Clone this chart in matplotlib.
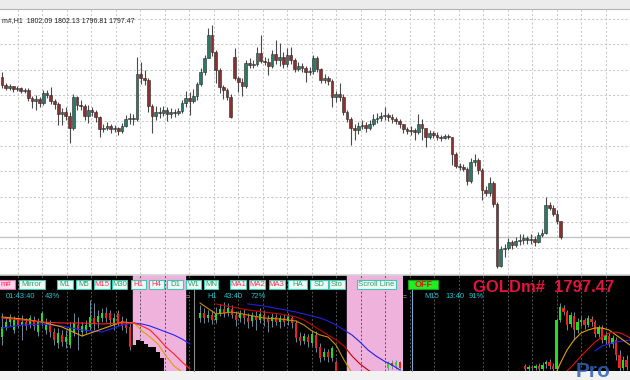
import numpy as np
import matplotlib.pyplot as plt
from matplotlib.patches import Rectangle
from matplotlib.lines import Line2D

W, H = 630, 380
plt.rcParams['font.family'] = ['Liberation Sans', 'DejaVu Sans']

# ---------------- main chart: GOLDm#, H1 ----------------
first_open = 1845.4
gap_opens = {62: 1851.4, 149: 1802.09}
main_close = [
    1843.0, 1842.1, 1842.7, 1841.8, 1842.1, 1841.2, 1841.5, 1839.1, 1838.2, 1838.8,
    1837.6, 1840.6, 1840.0, 1838.2, 1837.3, 1834.3, 1834.9, 1833.7, 1830.1, 1839.4,
    1837.0, 1836.7, 1833.7, 1835.5, 1834.9, 1833.4, 1829.8, 1830.1, 1830.7, 1829.8,
    1830.1, 1829.2, 1830.7, 1832.8, 1833.1, 1832.8, 1846.3, 1845.1, 1844.5, 1836.7,
    1833.7, 1834.9, 1834.6, 1835.5, 1834.3, 1834.9, 1834.6, 1835.2, 1837.6, 1839.1,
    1838.2, 1839.7, 1843.3, 1846.9, 1851.1, 1858.0, 1852.9, 1847.5, 1842.4, 1841.5,
    1839.4, 1833.4, 1845.1, 1843.9, 1842.7, 1849.6, 1849.0, 1849.3, 1852.6, 1850.2,
    1849.9, 1848.7, 1852.3, 1850.5, 1851.4, 1849.3, 1852.0, 1850.5, 1847.8, 1848.7,
    1848.1, 1846.9, 1847.2, 1851.1, 1847.8, 1844.5, 1845.1, 1844.2, 1839.4, 1840.3,
    1839.4, 1834.9, 1832.8, 1830.1, 1829.5, 1830.7, 1831.0, 1830.1, 1831.3, 1832.8,
    1833.1, 1833.7, 1834.0, 1833.4, 1832.8, 1832.2, 1831.3, 1829.8, 1829.2, 1829.5,
    1828.9, 1831.3, 1830.1, 1827.4, 1828.6, 1828.0, 1827.4, 1827.1, 1827.7, 1827.4,
    1822.3, 1818.7, 1818.4, 1817.8, 1814.2, 1819.9, 1820.5, 1817.5, 1811.5, 1810.6,
    1813.6, 1807.3, 1788.7, 1793.8, 1794.1, 1795.9, 1795.0, 1796.2, 1796.5, 1797.1,
    1796.5, 1796.8, 1795.9, 1798.0, 1798.6, 1807.0, 1806.1, 1804.3, 1802.2, 1797.47]
main_high = [
    1846.9, 1843.6, 1843.3, 1842.7, 1842.7, 1842.4, 1842.1, 1842.1, 1839.7, 1840.0,
    1839.4, 1841.5, 1841.5, 1842.4, 1838.8, 1837.9, 1836.1, 1836.4, 1834.9, 1840.3,
    1839.7, 1838.5, 1837.3, 1837.0, 1836.4, 1835.5, 1833.7, 1831.3, 1831.9, 1831.3,
    1831.0, 1830.4, 1831.6, 1834.0, 1834.6, 1834.3, 1851.4, 1849.9, 1847.5, 1845.1,
    1837.3, 1836.7, 1836.4, 1836.7, 1836.4, 1836.1, 1835.8, 1836.1, 1838.5, 1841.2,
    1840.9, 1841.8, 1843.9, 1848.1, 1852.0, 1860.1, 1861.0, 1853.5, 1848.1, 1843.0,
    1842.1, 1840.3, 1854.1, 1845.7, 1845.1, 1850.5, 1851.1, 1850.5, 1854.4, 1858.0,
    1851.4, 1851.1, 1853.5, 1856.5, 1855.6, 1852.9, 1854.1, 1854.4, 1851.1, 1849.9,
    1849.6, 1848.7, 1848.4, 1852.0, 1851.7, 1848.1, 1846.3, 1845.7, 1844.8, 1841.2,
    1843.6, 1840.3, 1835.5, 1833.4, 1831.3, 1831.9, 1832.5, 1831.9, 1832.5, 1834.3,
    1834.6, 1834.9, 1836.4, 1834.6, 1834.3, 1833.4, 1832.8, 1831.3, 1830.4, 1830.7,
    1830.1, 1834.3, 1832.8, 1830.1, 1829.5, 1829.2, 1828.9, 1828.0, 1828.3, 1828.3,
    1827.4, 1822.9, 1819.6, 1819.3, 1818.4, 1821.1, 1822.3, 1821.1, 1818.1, 1812.7,
    1815.4, 1814.2, 1807.9, 1794.7, 1795.3, 1797.1, 1796.5, 1797.4, 1798.3, 1798.3,
    1797.7, 1798.3, 1797.7, 1798.9, 1799.8, 1809.4, 1807.9, 1807.0, 1805.5, 1802.13]
main_low = [
    1842.1, 1841.5, 1841.5, 1840.9, 1841.2, 1840.6, 1840.6, 1838.2, 1836.1, 1835.5,
    1836.4, 1837.0, 1839.1, 1837.3, 1835.8, 1831.0, 1831.0, 1832.5, 1825.6, 1829.5,
    1835.5, 1835.5, 1832.5, 1831.6, 1833.7, 1831.9, 1827.4, 1828.9, 1829.5, 1828.6,
    1828.9, 1828.0, 1828.6, 1830.4, 1831.3, 1831.0, 1832.2, 1843.3, 1843.0, 1834.9,
    1828.6, 1832.5, 1833.1, 1833.7, 1832.2, 1833.1, 1833.4, 1834.0, 1834.6, 1836.4,
    1834.0, 1837.6, 1838.5, 1842.7, 1846.0, 1851.1, 1851.7, 1843.6, 1840.6, 1838.8,
    1838.5, 1833.1, 1844.5, 1840.9, 1839.7, 1842.1, 1848.1, 1848.1, 1848.7, 1849.6,
    1849.0, 1846.0, 1848.1, 1849.3, 1848.7, 1848.1, 1848.4, 1849.3, 1846.9, 1847.2,
    1846.9, 1843.9, 1846.0, 1846.3, 1846.9, 1843.6, 1843.6, 1843.0, 1836.4, 1837.9,
    1838.2, 1834.0, 1831.9, 1825.0, 1826.5, 1828.3, 1829.8, 1828.9, 1829.5, 1830.7,
    1831.6, 1832.2, 1832.5, 1832.2, 1831.6, 1831.3, 1830.1, 1828.6, 1828.3, 1828.0,
    1826.5, 1828.3, 1826.5, 1824.4, 1826.8, 1827.1, 1826.5, 1826.2, 1826.8, 1826.8,
    1819.0, 1818.1, 1817.5, 1817.2, 1813.0, 1813.6, 1818.7, 1816.3, 1808.5, 1809.7,
    1809.7, 1806.4, 1788.1, 1788.4, 1791.4, 1793.5, 1793.8, 1794.4, 1795.0, 1795.3,
    1795.3, 1795.3, 1794.7, 1795.6, 1797.4, 1798.3, 1805.5, 1803.7, 1801.3, 1796.81]
bid_price = 1797.47
title_text = "m#,H1  1802.09 1802.13 1796.81 1797.47"

# ---------------- mini panel 1 ----------------
p1_open = [1803.4, 1804.4, 1804.9, 1804.1, 1805.1, 1804.6, 1804.9, 1804.6, 1805.1, 1803.9,
           1804.8, 1804.1, 1804.6, 1803.9, 1802.8, 1803.6, 1802.9, 1802.6, 1803.8, 1804.6,
           1803.9, 1804.1, 1804.4, 1805.3, 1804.9, 1805.3, 1805.8, 1805.8, 1804.6, 1805.8,
           1805.0, 1804.7, 1804.4]
p1_close = [1804.4, 1804.9, 1805.3, 1805.1, 1804.6, 1804.9, 1804.5, 1805.3, 1804.5, 1804.9,
            1805.8, 1804.6, 1803.9, 1803.1, 1803.8, 1802.9, 1803.4, 1804.3, 1804.8, 1804.1,
            1804.5, 1804.6, 1805.4, 1804.8, 1805.5, 1805.8, 1805.3, 1805.1, 1805.3, 1804.8,
            1804.5, 1804.3, 1802.4]
p1_high = [1805.8, 1805.3, 1805.7, 1805.5, 1805.4, 1805.6, 1805.3, 1805.6, 1805.5, 1805.3,
           1806.0, 1805.3, 1805.1, 1804.3, 1804.3, 1804.1, 1804.1, 1804.9, 1805.8, 1805.4,
           1804.9, 1805.1, 1807.1, 1806.8, 1806.1, 1806.3, 1806.4, 1806.1, 1805.8, 1806.1,
           1805.5, 1805.3, 1804.8]
p1_low = [1802.6, 1804.1, 1804.5, 1803.8, 1804.3, 1803.1, 1804.1, 1804.3, 1804.1, 1803.5,
          1804.5, 1803.7, 1803.4, 1802.6, 1802.3, 1802.5, 1802.3, 1802.3, 1803.5, 1802.1,
          1803.5, 1803.8, 1804.1, 1804.1, 1804.3, 1804.9, 1804.9, 1804.6, 1804.1, 1804.5,
          1804.1, 1803.8, 1802.1]
p1_shadow_x = [33, 34, 35, 36, 37, 38, 39, 40]
p1_shadow_top = [1802.6, 1803.1, 1803.0, 1802.7, 1802.4, 1802.4, 1801.9, 1801.3]
p1_ma_x = [0, 5, 10, 15, 20, 25, 30, 33, 35, 37, 39, 41, 43, 45, 47]
p1_ma_red = [1805.3, 1805.1, 1804.9, 1804.8, 1804.8, 1804.7, 1804.8, 1804.8, 1804.5, 1804.1,
             1803.3, 1802.4, 1801.7, 1800.9, 1800.2]
p1_ma_gold = [1805.4, 1805.2, 1804.9, 1804.4, 1803.5, 1804.2, 1804.9, 1804.8, 1804.0, 1803.4,
              1802.7, 1801.5, 1800.5, 1799.9, 1799.2]
p1_ma_blue = [1804.3, 1804.6, 1804.7, 1804.5, 1804.1, 1803.9, 1804.6, 1804.8, 1804.7, 1804.5,
              1804.2, 1803.9, 1803.6, 1803.2, 1802.7]

# ---------------- mini panel 2 (H1) ----------------
p2_x = list(range(35)) + [47, 48, 49, 50]
p2_open = [1805.3, 1805.8, 1805.3, 1805.6, 1805.1, 1805.7, 1806.2, 1805.8, 1806.2, 1805.6,
           1805.3, 1805.7, 1805.3, 1805.0, 1805.5, 1805.1, 1805.6, 1805.2, 1805.0, 1805.4,
           1804.9, 1805.3, 1805.0, 1805.3, 1804.8, 1803.4, 1803.0, 1803.4, 1802.8, 1803.6,
           1802.4, 1801.4, 1801.9, 1801.3, 1800.9, 1800.3, 1800.8, 1800.5, 1800.9]
p2_close = [1805.8, 1805.3, 1805.6, 1805.1, 1805.7, 1806.2, 1805.8, 1806.3, 1805.6, 1805.1,
            1805.7, 1805.3, 1804.9, 1805.5, 1805.1, 1805.7, 1805.2, 1804.9, 1805.4, 1804.9,
            1805.3, 1804.9, 1805.4, 1804.8, 1803.3, 1803.0, 1803.5, 1802.9, 1803.7, 1802.3,
            1801.3, 1801.9, 1801.4, 1802.3, 1800.0, 1800.8, 1800.5, 1800.9, 1800.3]
p2_high = [1806.6, 1806.3, 1806.1, 1806.1, 1806.4, 1806.7, 1806.9, 1806.8, 1806.6, 1806.0,
           1806.1, 1806.2, 1805.8, 1805.9, 1806.0, 1806.3, 1806.1, 1805.6, 1805.8, 1805.7,
           1805.6, 1805.7, 1805.8, 1805.6, 1805.1, 1803.9, 1803.8, 1803.7, 1804.1, 1804.0,
           1802.8, 1802.3, 1802.2, 1802.5, 1801.1, 1801.0, 1801.1, 1801.1, 1801.0]
p2_low = [1804.9, 1804.8, 1804.9, 1804.7, 1804.8, 1805.5, 1805.4, 1805.5, 1805.3, 1804.5,
          1804.9, 1804.7, 1804.3, 1804.5, 1804.1, 1804.8, 1804.5, 1803.9, 1804.4, 1804.6,
          1804.3, 1804.5, 1804.6, 1804.3, 1802.9, 1802.6, 1802.7, 1802.4, 1802.5, 1801.9,
          1800.9, 1801.1, 1800.9, 1801.0, 1799.8, 1800.1, 1800.2, 1800.2, 1800.1]
p2_ma_x = [0, 4, 8, 12, 16, 20, 24, 26, 28, 30, 32, 34, 36, 38, 40, 42, 44, 46, 48, 50]
nan = np.nan
p2_ma_red = [nan, 1806.7, 1806.4, 1806.1, 1805.9, 1805.7, 1805.4, 1805.1, 1804.6, 1804.1,
             1803.6, 1803.1, 1802.5, 1801.5, 1800.7, 1800.1, 1799.6, nan, nan, nan]
p2_ma_gold = [1806.8, 1805.7, 1805.9, 1805.6, 1805.3, 1805.2, 1805.0, 1804.6, 1804.0, 1803.6,
              1803.4, 1802.6, 1801.1, 1799.8, nan, nan, nan, nan, nan, nan]
p2_ma_blue = [nan, nan, nan, 1806.7, 1806.5, 1806.2, 1805.9, 1805.7, 1805.5, 1805.3,
              1805.0, 1804.6, 1804.1, 1803.6, 1802.9, 1802.1, 1801.5, 1801.0, 1800.6, 1800.1]

# ---------------- mini panel 3 (M15) ----------------
p3_open = [1800.5, 1800.2, 1800.4, 1800.3, 1800.5, 1800.2, 1800.7, 1800.9, 1800.5, 1800.2,
           1805.1, 1806.3, 1805.9, 1804.7, 1805.5, 1804.1, 1804.9, 1805.1, 1804.6, 1805.2,
           1804.9, 1803.7, 1804.3, 1803.1, 1803.5, 1802.7, 1803.1, 1801.6, 1800.3, 1801.1]
p3_close = [1800.2, 1800.4, 1800.3, 1800.5, 1800.2, 1800.6, 1800.9, 1800.5, 1800.2, 1805.1,
            1806.4, 1805.9, 1804.6, 1805.6, 1804.1, 1804.9, 1805.1, 1804.6, 1805.3, 1804.9,
            1803.7, 1804.4, 1803.1, 1803.6, 1802.7, 1803.3, 1801.6, 1800.3, 1801.1, 1800.4]
p3_high = [1800.7, 1800.6, 1800.6, 1800.7, 1800.8, 1800.9, 1801.1, 1801.2, 1800.8, 1805.3,
           1806.8, 1806.6, 1806.1, 1805.9, 1805.9, 1805.3, 1805.5, 1805.3, 1805.6, 1805.5,
           1805.1, 1804.6, 1804.6, 1803.9, 1803.8, 1803.6, 1803.4, 1802.1, 1801.5, 1801.6]
p3_low = [1800.0, 1800.0, 1800.1, 1800.1, 1800.0, 1800.0, 1800.3, 1800.2, 1800.0, 1800.0,
          1804.9, 1805.6, 1804.1, 1804.4, 1803.1, 1803.8, 1804.5, 1804.2, 1804.4, 1804.5,
          1803.4, 1803.4, 1802.8, 1802.7, 1802.4, 1802.3, 1801.1, 1800.0, 1800.1, 1800.1]
p3_ma_x = [9, 10, 12, 14, 16, 18, 20, 22, 24, 26, 28, 30]
p3_ma_gold = [1799.9, 1800.7, 1802.1, 1803.1, 1803.8, 1804.1, 1804.3, 1804.3, 1804.1, 1803.6,
              1803.1, 1802.6]
p3_ma_red = [nan, nan, 1800.0, 1800.7, 1801.5, 1802.2, 1802.9, 1803.4, 1803.8, 1803.9,
             1803.7, 1803.3]
p3_ma_blue = [nan, nan, nan, nan, nan, nan, 1802.0, 1802.5, 1802.7, 1802.9, 1803.0, 1803.1]

# ---------------- toolbar / labels ----------------
button_labels = ["m#", "Mirror", "M1", "M5", "M15", "M30", "H1", "H4", "D1", "W1", "MN",
                 "MA1", "MA2", "MA3", "HA", "SD", "Sto", "Scroll Line", "OFF"]
button_red = {"m#", "M15", "H1", "H4", "MA1", "MA2", "MA3"}
button_x = [(-3, 15), (19, 45), (57, 72.7), (76, 90.7), (94, 110), (111.7, 127.3),
            (130.7, 145.7), (149.3, 164), (167.3, 182.7), (186, 200.7), (204, 218.3),
            (230, 246), (249.3, 265.3), (268.7, 284.7), (288.3, 307.3), (310, 328.3),
            (329, 345), (356.7, 396), (408.3, 438.3)]
panel_info = [[("01:43:40", 6), ("43%", 45)],
              [("H1", 207), ("43:40", 224), ("72%", 251)],
              [("M15", 424), ("13:40", 445), ("91%", 469)]]
symbol_label = "GOLDm#  1797.47"


def px_rect(x0, y0, x1, y1):
    return [x0 / W, 1 - y1 / H, (x1 - x0) / W, (y1 - y0) / H]


def fx(x):
    return x / W


def fy(y):
    return 1 - y / H


def draw_candles(ax, x, o, h, l, c, up, dn, wick, edge, width, wlw, elw):
    x = np.asarray(x, float)
    o, h, l, c = (np.asarray(v, float) for v in (o, h, l, c))
    h = np.maximum(h, np.maximum(o, c))
    l = np.minimum(l, np.minimum(o, c))
    ax.vlines(x, l, h, color=wick, lw=wlw, zorder=2)
    body = np.maximum(np.abs(c - o), 0.12)
    cols = [up if cc >= oo else dn for oo, cc in zip(o, c)]
    ax.bar(x, body, bottom=np.minimum(o, c), width=width, color=cols,
           edgecolor=edge, linewidth=elw, zorder=3)


def clean(ax):
    ax.tick_params(length=0, labelbottom=False, labelleft=False)
    for s in ax.spines.values():
        s.set_visible(False)


fig = plt.figure(figsize=(6.3, 3.8), dpi=100, facecolor='#f2f2f2')

# top window strip
fig.add_artist(Rectangle((0, fy(9)), 1, 9 / H, transform=fig.transFigure,
                         facecolor='#ececec', edgecolor='none'))
fig.add_artist(Line2D([0, 1], [fy(9), fy(9)], transform=fig.transFigure,
                      color='#b4b4b4', lw=0.8))

# main chart
ax = fig.add_axes(px_rect(0, 10, 630, 274))
ax.set_facecolor('white')
sp = 3.75
n = len(main_close)
main_open = [first_open] + main_close[:-1]
for k, v in gap_opens.items():
    main_open[k] = v
ax.set_xticks((np.arange(17.7, 630, 24.5) - 2) / sp)
ax.set_yticks(np.arange(1794.22, 1865, 7.62))
ax.set_xlim(-2 / sp, 628 / sp)
ax.set_ylim(1786.3, 1865.5)
ax.grid(True, color='#c8c8c8', lw=0.75, linestyle=(0, (2, 2)))
ax.set_axisbelow(True)
clean(ax)
ax.axhline(bid_price, color='#c4c4c4', lw=1.0, zorder=1)
draw_candles(ax, np.arange(n), main_open, main_high, main_low, main_close,
             '#2b7a68', '#8c2f2f', '#4a4a4a', '#2a2a2a', 0.7, 0.8, 0.4)
ax.text(0, 1862.2, title_text, fontsize=5.0, color='#1e1e1e', va='center', ha='left')

fig.add_artist(Line2D([0, 1], [fy(274.5), fy(274.5)], transform=fig.transFigure,
                      color='#d4d4d4', lw=1.2))

# black indicator strip
bg = fig.add_axes(px_rect(0, 275, 630, 371))
bg.set_facecolor('black')
clean(bg)

pink = '#efb2dc'
grid_px = np.arange(17.7, 630, 24.5)


def panel(rect, x0px, spx, x_left_px, x_right_px):
    a = fig.add_axes(rect)
    a.set_facecolor('none')
    a.set_xticks((grid_px - x0px) / spx)
    a.set_yticks([])
    a.set_xlim((x_left_px - x0px) / spx, (x_right_px - x0px) / spx)
    a.set_ylim(1800.0, 1809.6)
    a.grid(True, axis='x', color='#555555', lw=0.7, linestyle=(0, (2, 2)))
    a.set_axisbelow(True)
    clean(a)
    return a


# panel 1
a1 = panel(px_rect(0, 275, 194, 371), 2, 4, 0, 194)
a1.axvspan((133 - 2) / 4, (185 - 2) / 4, color=pink, zorder=0.5)
draw_candles(a1, np.arange(len(p1_close)), p1_open, p1_high, p1_low, p1_close,
             '#22dd22', '#ee2222', '#6f8a9a', 'none', 0.6, 0.7, 0)
a1.bar(p1_shadow_x, np.array(p1_shadow_top) - 1800.0, bottom=1800.0, width=1.0,
       color='black', zorder=3)
a1.plot(p1_ma_x, p1_ma_blue, color='#2424ff', lw=0.8, zorder=4)
a1.plot(p1_ma_x, p1_ma_gold, color='#e0a000', lw=0.8, zorder=4)
a1.plot(p1_ma_x, p1_ma_red, color='#ff2020', lw=0.8, zorder=4)

# panel 2
a2 = panel(px_rect(195, 275, 403, 371), 200, 4, 195, 403)
a2.axvspan((347 - 200) / 4, (403 - 200) / 4, color=pink, zorder=0.5)
draw_candles(a2, p2_x, p2_open, p2_high, p2_low, p2_close,
             '#22dd22', '#ee2222', '#6f8a9a', 'none', 0.6, 0.7, 0)
a2.plot(p2_ma_x, p2_ma_blue, color='#2020e0', lw=0.8, zorder=4)
a2.plot(p2_ma_x, p2_ma_gold, color='#c89000', lw=0.8, zorder=4)
a2.plot(p2_ma_x, p2_ma_red, color='#c80000', lw=0.8, zorder=4)

# panel 3
a3 = panel(px_rect(403, 275, 630, 371), 525, 3.5, 403, 630)
draw_candles(a3, np.arange(len(p3_close)), p3_open, p3_high, p3_low, p3_close,
             '#22dd22', '#ee2222', '#6f8a9a', 'none', 0.65, 0.7, 0)
a3.plot(p3_ma_x, p3_ma_blue, color='#2020ff', lw=0.8, zorder=4)
a3.plot(p3_ma_x, p3_ma_gold, color='#e0a000', lw=0.8, zorder=4)
a3.plot(p3_ma_x, p3_ma_red, color='#e01010', lw=0.8, zorder=4)

# separators and scroll line
fig.add_artist(Line2D([fx(194), fx(194)], [fy(286), fy(371)], transform=fig.transFigure,
                      color='#8a8a8a', lw=0.8))
fig.add_artist(Line2D([fx(412), fx(412)], [fy(290), fy(371)], transform=fig.transFigure,
                      color='#7fa8c8', lw=0.8))
for xm in (188, 405):
    fig.text(fx(xm), fy(298), "=", fontsize=5, color='#bbbbbb', ha='center', va='center')

# buttons
for lab, (x0, x1) in zip(button_labels, button_x):
    if lab == "OFF":
        face, edge, tcol, wt = '#22ee22', '#18a018', '#e01818', 'bold'
    elif lab == "m#":
        face, edge, tcol, wt = '#ffd6ea', '#e070b0', '#ff2050', 'normal'
    else:
        face, edge, wt = '#eef8f4', '#3cc8b4', 'normal'
        tcol = '#ff3050' if lab in button_red else '#2f9f68'
    fig.add_artist(Rectangle((fx(x0), fy(289)), (x1 - x0) / W, 9.5 / H,
                             transform=fig.transFigure, facecolor=face, edgecolor=edge,
                             lw=0.8, zorder=5))
    fig.text(fx((x0 + x1) / 2), fy(284.2), lab, fontsize=5.6 if lab != "OFF" else 6.5,
             fontweight=wt, color=tcol, ha='center', va='center', zorder=6)

for row in panel_info:
    for s, xp in row:
        fig.text(fx(xp), fy(297), s, fontsize=5.5, color='#1ec4d2', ha='left',
                 va='center', zorder=6)

fig.text(fx(472.7), fy(288), symbol_label, fontsize=12, fontweight='bold',
         color='#e0143c', ha='left', va='center', zorder=6)
fig.text(fx(576), fy(377), "Pro", fontsize=15, fontweight='bold', color='#2d62b5',
         alpha=0.85, ha='left', va='baseline', zorder=6)

fig.savefig('out.png', dpi=100, facecolor=fig.get_facecolor())
